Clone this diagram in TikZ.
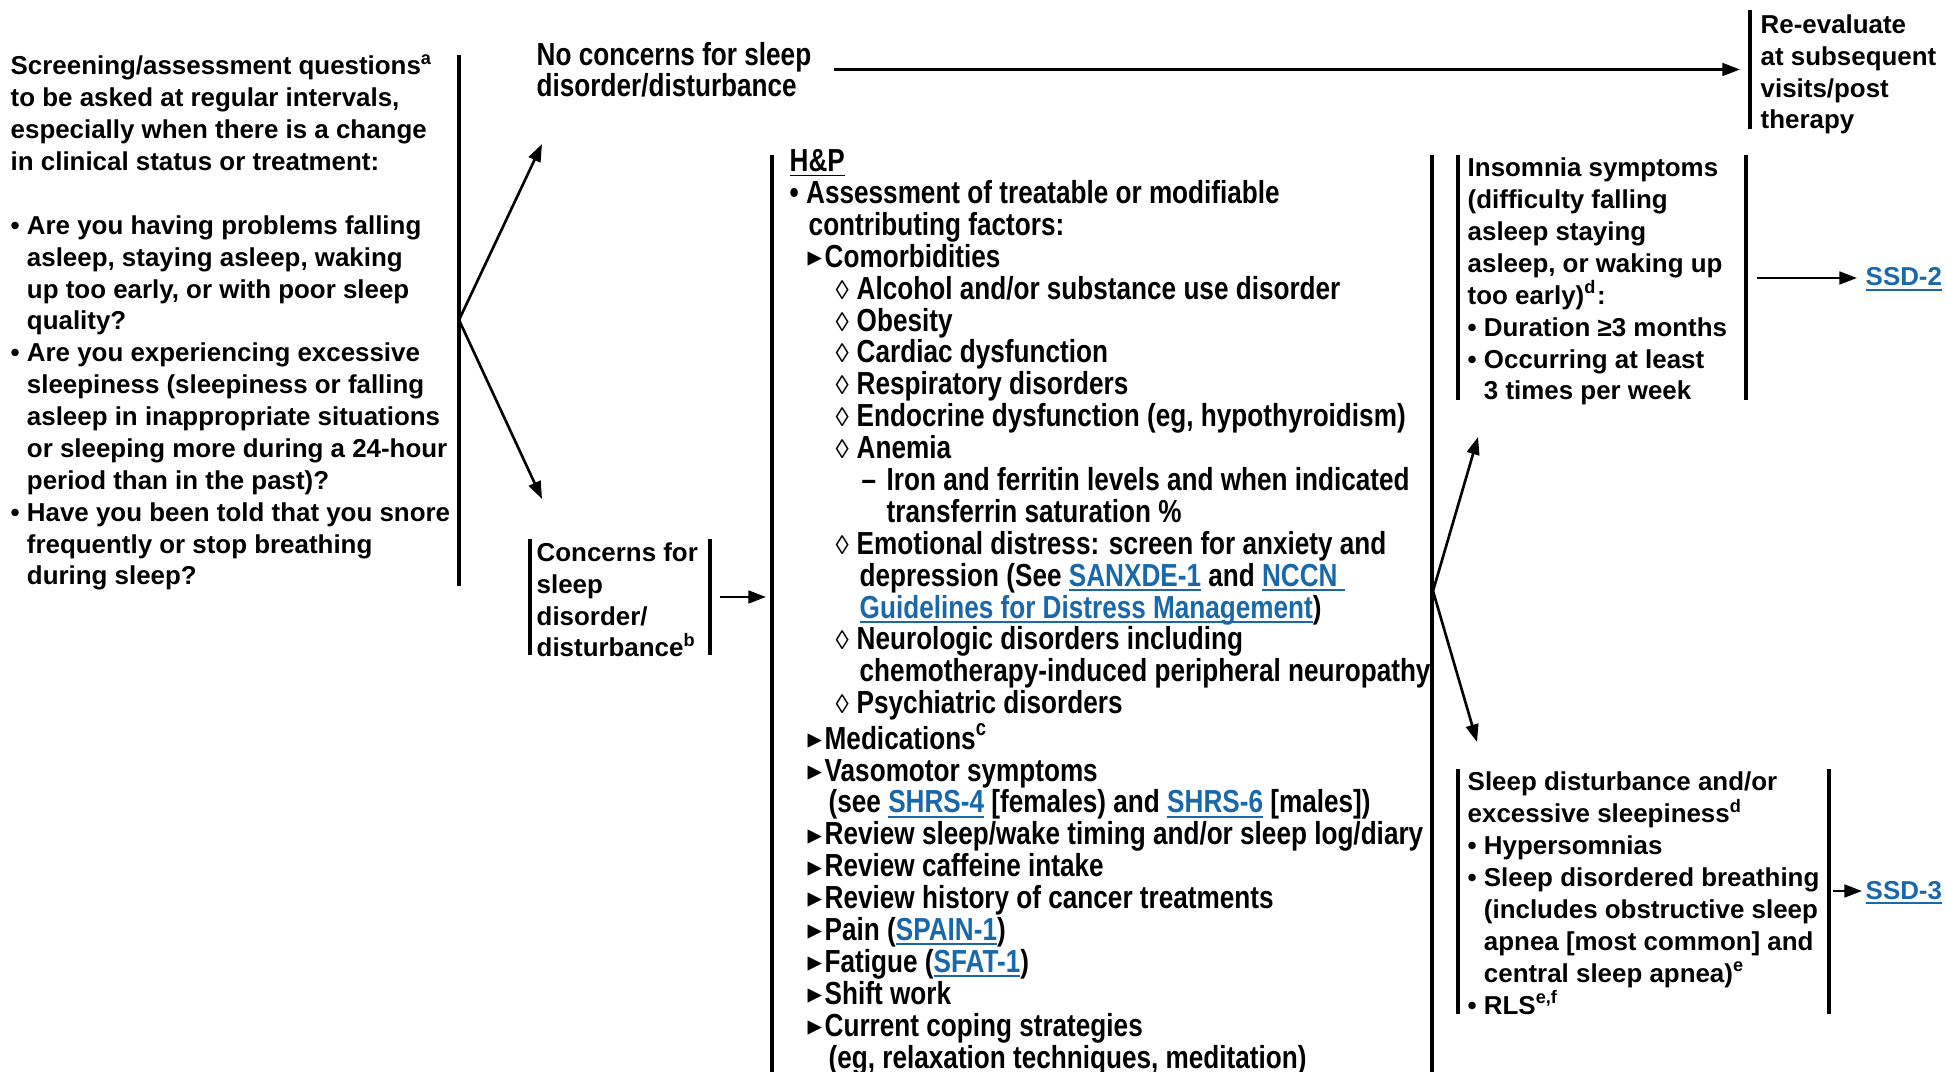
\documentclass[tikz,border=0pt]{standalone}
\usepackage{fontspec}
\setmainfont{Liberation Sans}
\newfontfamily\narrowfont{Liberation Sans}[FakeStretch=0.82]
\newfontfamily\symfont{DejaVu Sans}
\usetikzlibrary{arrows.meta,positioning}
\definecolor{linkblue}{RGB}{25,105,170}
\newcommand{\uln}[1]{\setbox0\hbox{#1}\rlap{\rule[-1.3pt]{\wd0}{0.5pt}}\box0}
\newcommand{\lnk}[1]{\textcolor{linkblue}{\uln{#1}}}
\newcommand{\hang}{\hphantom{• }}
% markers of the H&P list
\newcommand{\lvA}{\makebox[0.165cm][l]{•}}
\newcommand{\lvB}{\hspace*{0.18cm}\makebox[0.17cm][l]{\raisebox{0.2pt}{\symfont\fontsize{8.2}{8.2}\selectfont ▸}}}
\newcommand{\lvC}{\hspace*{0.46cm}\makebox[0.21cm][l]{\normalfont\fontsize{7.6}{7.6}\selectfont ◊}}
\newcommand{\lvD}{\hspace*{0.72cm}\makebox[0.25cm][l]{–}}
% base anchor = baseline of the last line
\tikzset{
  txt/.style={anchor=base west, inner sep=0pt, align=left,
    font=\bfseries\fontsize{7.37}{9.07}\selectfont},
  ntxt/.style={anchor=base west, inner sep=0pt, align=left,
    font=\narrowfont\bfseries\fontsize{9.07}{9.07}\selectfont},
  bar/.style={line width=0.9pt},
  flow/.style={-{Triangle[length=5pt,width=3.6pt]},line width=0.75pt}
}
\begin{document}
\begin{tikzpicture}
\useasboundingbox (0,0) rectangle (19.46,-10.72);

\node[txt] (quest) at (0.10,-5.85) {Screening/assessment questions\textsuperscript{a}\\
to be asked at regular intervals,\\
especially when there is a change\\
in clinical status or treatment:\\[9.07pt]
• Are you having problems falling\\
\hang asleep, staying asleep, waking\\
\hang up too early, or with poor sleep\\
\hang quality?\\
• Are you experiencing excessive\\
\hang sleepiness (sleepiness or falling\\
\hang asleep in inappropriate situations\\
\hang or sleeping more during a 24-hour\\
\hang period than in the past)?\\
• Have you been told that you snore\\
\hang frequently or stop breathing\\
\hang during sleep?};
\draw[bar] (4.59,-0.55) -- (4.59,-5.86);

\node[ntxt] (nocon) at (5.36,-0.97) {No concerns for sleep\\disorder/disturbance};
\node[txt] (reeval) at (17.60,-1.29) {Re-evaluate\\at subsequent\\visits/post\\therapy};
\draw[bar] (17.50,-0.10) -- (17.50,-1.29);

\node[txt] (con) at (5.36,-6.57) {Concerns for\\sleep\\disorder/\\disturbance\textsuperscript{b}};
\draw[bar] (5.30,-5.39) -- (5.30,-6.55);
\draw[bar] (7.10,-5.39) -- (7.10,-6.55);

\node[ntxt] (hp) at (7.89,-10.68) {\uln{H\&P}\\
\lvA Assessment of treatable or modifiable\\
\hspace*{0.19cm}contributing factors:\\
\lvB Comorbidities\\
\lvC Alcohol and/or substance use disorder\\
\lvC Obesity\\
\lvC Cardiac dysfunction\\
\lvC Respiratory disorders\\
\lvC Endocrine dysfunction (eg, hypothyroidism)\\
\lvC Anemia\\
\lvD Iron and ferritin levels and when indicated\\
\hspace*{0.97cm}transferrin saturation \%\\
\lvC Emotional distress: screen for anxiety and\\
\hspace*{0.70cm}depression (See \lnk{SANXDE-1} and \lnk{NCCN\ }\\
\hspace*{0.70cm}\lnk{Guidelines for Distress Management})\\
\lvC Neurologic disorders including\\
\hspace*{0.70cm}chemotherapy-induced peripheral neuropathy\\
\lvC Psychiatric disorders\\
\lvB Medications\textsuperscript{c}\\
\lvB Vasomotor symptoms\\
\hspace*{0.39cm}(see \lnk{SHRS-4} [females) and \lnk{SHRS-6} [males])\\
\lvB Review sleep/wake timing and/or sleep log/diary\\
\lvB Review caffeine intake\\
\lvB Review history of cancer treatments\\
\lvB Pain (\lnk{SPAIN-1})\\
\lvB Fatigue (\lnk{SFAT-1})\\
\lvB Shift work\\
\lvB Current coping strategies\\
\hspace*{0.39cm}(eg, relaxation techniques, meditation)};
\draw[bar] (7.72,-1.55) -- (7.72,-10.72);
\draw[bar] (14.32,-1.55) -- (14.32,-10.72);

\node[txt] (ins) at (14.67,-4.00) {Insomnia symptoms\\
(difficulty falling\\
asleep staying\\
asleep, or waking up\\
too early)\textsuperscript{d}:\\
• Duration ≥3 months\\
• Occurring at least\\
\hang 3 times per week};
\draw[bar] (14.58,-1.55) -- (14.58,-4.00);
\draw[bar] (17.46,-1.55) -- (17.46,-4.00);
\node[txt] (ssdA) at (18.65,-2.86) {\lnk{SSD-2}};

\node[txt] (sd) at (14.67,-10.14) {Sleep disturbance and/or\\
excessive sleepiness\textsuperscript{d}\\
• Hypersomnias\\
• Sleep disordered breathing\\
\hang (includes obstructive sleep\\
\hang apnea [most common] and\\
\hang central sleep apnea)\textsuperscript{e}\\
• RLS\textsuperscript{e,f}};
\draw[bar] (14.58,-7.69) -- (14.58,-10.14);
\draw[bar] (18.29,-7.69) -- (18.29,-10.14);
\node[txt] (ssdB) at (18.65,-8.99) {\lnk{SSD-3}};

% connectors
\coordinate (fork) at (4.59,-3.20);
\coordinate (toNo) at (5.42,-1.44);
\coordinate (toYes) at (5.42,-4.99);
\coordinate (noOut) at (8.34,-0.695);
\coordinate (noIn) at (17.40,-0.695);
\coordinate (conOut) at (7.20,-5.97);
\coordinate (hpIn) at (7.66,-5.97);
\coordinate (hpOut) at (14.33,-5.91);
\coordinate (insIn) at (14.78,-4.37);
\coordinate (sdIn) at (14.77,-7.42);
\coordinate (insOut) at (17.57,-2.78);
\coordinate (ssdAIn) at (18.57,-2.78);
\coordinate (sdOut) at (18.33,-8.91);
\coordinate (ssdBIn) at (18.62,-8.91);
\draw[flow] (fork) -- (toNo);
\draw[flow] (fork) -- (toYes);
\draw[flow] (noOut) -- (noIn);
\draw[flow] (conOut) -- (hpIn);
\draw[flow] (hpOut) -- (insIn);
\draw[flow] (hpOut) -- (sdIn);
\draw[flow] (insOut) -- (ssdAIn);
\draw[flow] (sdOut) -- (ssdBIn);
\end{tikzpicture}
\end{document}
